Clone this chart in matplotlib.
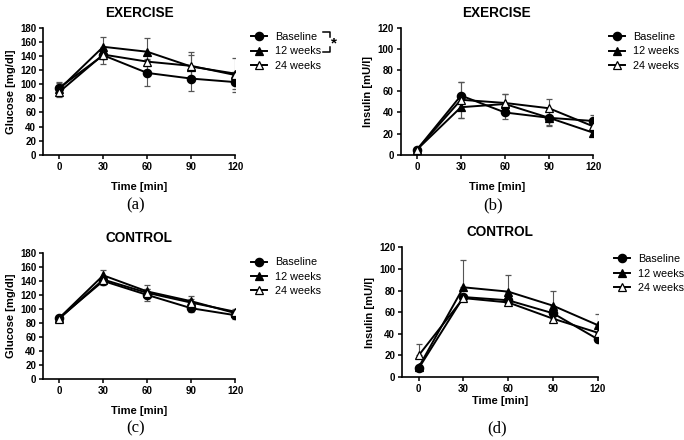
import matplotlib.pyplot as plt
from matplotlib.lines import Line2D

plt.rcParams['font.family'] = ['Liberation Sans', 'DejaVu Sans']

time = [0, 30, 60, 90, 120]
groups = ["Baseline", "12 weeks", "24 weeks"]

# (a) glucose, exercise
glu_ex = {
    "Baseline": [95, 141, 116, 108, 103],
    "12 weeks": [93, 153, 146, 125, 115],
    "24 weeks": [89, 142, 132, 126, 113],
}
glu_ex_err = {
    "Baseline": [8, 12, 18, 18, 14],
    "12 weeks": [9, 14, 20, 21, 22],
    "24 weeks": [7, 6, 4, 16, 5],
}
# (b) insulin, exercise
ins_ex = {
    "Baseline": [5, 56, 40, 35, 32],
    "12 weeks": [5, 45, 48, 35, 21],
    "24 weeks": [5, 52, 49, 44, 27],
}
ins_ex_err = {
    "Baseline": [1, 13, 6, 7, 6],
    "12 weeks": [1, 10, 9, 8, 2],
    "24 weeks": [1, 17, 8, 9, 4],
}
# (c) glucose, control
glu_co = {
    "Baseline": [87, 140, 120, 101, 91],
    "12 weeks": [87, 148, 125, 111, 94],
    "24 weeks": [86, 142, 123, 109, 96],
}
glu_co_err = {
    "Baseline": [3, 6, 8, 6, 6],
    "12 weeks": [3, 7, 9, 8, 5],
    "24 weeks": [3, 4, 5, 5, 4],
}
# (d) insulin, control (upper error bars only)
ins_co = {
    "Baseline": [8, 74, 71, 59, 35],
    "12 weeks": [9, 83, 79, 66, 48],
    "24 weeks": [20, 73, 69, 54, 41],
}
ins_co_err = {
    "Baseline": [1, 1, 1, 1, 1],
    "12 weeks": [1, 25, 15, 14, 10],
    "24 weeks": [11, 1, 1, 1, 1],
}

styles = {
    "Baseline": dict(marker='o', mfc='black', ms=6),
    "12 weeks": dict(marker='^', mfc='black', ms=6),
    "24 weeks": dict(marker='^', mfc='white', ms=6),
}

fig = plt.figure(figsize=(6.84, 4.40), dpi=100)

panels = [
    ([0.063, 0.648, 0.281, 0.289], glu_ex, glu_ex_err, "EXERCISE", "Glucose [mg/dl]", 180, "(a)", False, 0.073, 0.534),
    ([0.586, 0.648, 0.281, 0.289], ins_ex, ins_ex_err, "EXERCISE", "Insulin [mU/l]", 120, "(b)", False, 0.073, 0.534),
    ([0.063, 0.139, 0.281, 0.286], glu_co, glu_co_err, "CONTROL", "Glucose [mg/dl]", 180, "(c)", False, 0.073, 0.027),
    ([0.588, 0.143, 0.286, 0.295], ins_co, ins_co_err, "CONTROL", "Insulin [mU/l]", 120, "(d)", True, 0.054, 0.027),
]

for rect, data, err, title, ylabel, ymax, tag, upper_only, xlab_pad, tag_y in panels:
    ax = fig.add_axes(rect)
    handles = []
    for g in groups:
        if upper_only:
            yerr = [[0] * len(time), err[g]]
        else:
            yerr = err[g]
        ax.errorbar(time, data[g], yerr=yerr, color='black', ecolor='#555555',
                    elinewidth=0.8, capsize=2.5, capthick=0.8, lw=1.4,
                    mec='black', mew=0.9, **styles[g])
        handles.append(Line2D([], [], color='black', lw=1.4, mec='black', mew=0.9,
                              label=g, **styles[g]))
    ax.set_xlim(-11, 120)
    ax.set_ylim(0, ymax)
    ax.set_xticks(time)
    ax.set_yticks(range(0, ymax + 1, 20))
    for s in ['top', 'right']:
        ax.spines[s].set_visible(False)
    for s in ['left', 'bottom']:
        ax.spines[s].set_linewidth(1.2)
    ax.tick_params(direction='out', length=3, width=1.1, labelsize=7, pad=2)
    for lbl in ax.get_xticklabels() + ax.get_yticklabels():
        lbl.set_fontweight('bold')
    ax.set_ylabel(ylabel, fontsize=8, fontweight='bold', labelpad=3)
    ax.set_title(title, fontsize=9.8, fontweight='bold', pad=8)
    xc = rect[0] + rect[2] / 2
    fig.text(xc, rect[1] - xlab_pad, "Time [min]", ha='center', va='center',
             fontsize=8, fontweight='bold')
    fig.text(xc - 0.005, tag_y, tag, ha='center', va='center',
             fontsize=12, family=['Liberation Serif', 'DejaVu Serif'])
    ax.legend(handles=handles, loc='upper left',
              bbox_to_anchor=(1.06, 1.0 if tag != "(d)" else 0.98),
              frameon=False, fontsize=7.8, handlelength=1.5, handletextpad=0.7,
              labelspacing=0.4, borderaxespad=0)

# significance bracket next to legend of (a)
x0, x1 = 323 / 684, 330 / 684
yt, yb = 1 - 32 / 440, 1 - 52 / 440
fig.add_artist(Line2D([x0, x1, x1], [yt, yt, yt - 0.012], color='black', lw=1.1))
fig.add_artist(Line2D([x0, x1, x1], [yb, yb, yb + 0.012], color='black', lw=1.1))
fig.text(334 / 684, 1 - 43 / 440, "*", fontsize=11, fontweight='bold', ha='center', va='center')

fig.savefig("out.png", dpi=100)
